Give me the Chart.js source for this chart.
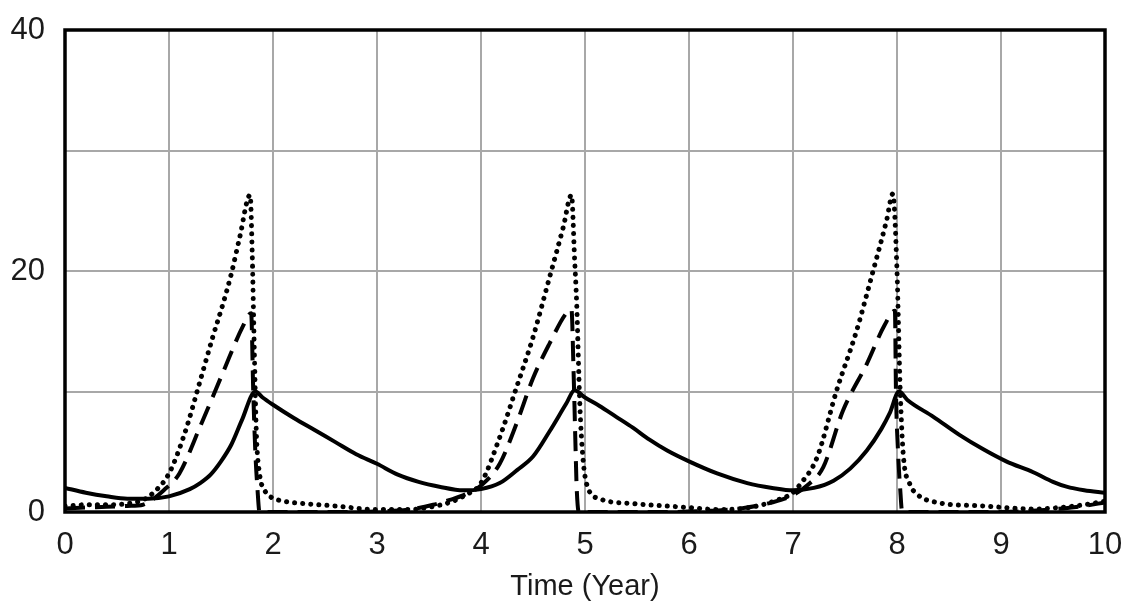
<!DOCTYPE html>
<html>
<head>
<meta charset="utf-8">
<script src="https://cdn.jsdelivr.net/npm/chart.js@4.4.1/dist/chart.umd.min.js"></script>
<style>
  html, body { margin: 0; padding: 0; background: #ffffff; }
  #c { display: block; }
</style>
</head>
<body>
<canvas id="c" width="1127" height="612"></canvas>
<script>
// ---- data ----
const xTickLabels = ['0','1','2','3','4','5','6','7','8','9','10'];
const yTickLabels = ['0','20','40'];
const xTitle = 'Time (Year)';

const solidTime  = [0.0,0.2,0.4,0.6,0.8,1.0,1.2,1.3,1.4,1.5,1.6,1.7,1.83,1.9,2.0,2.2,2.4,2.6,2.8,3.0,3.2,3.4,3.6,3.83,4.0,4.18,4.35,4.5,4.66,4.82,4.9,5.0,5.14,5.3,5.46,5.62,5.79,6.0,6.27,6.56,6.8,7.0,7.2,7.39,7.55,7.71,7.85,7.93,8.02,8.1,8.35,8.6,8.83,9.05,9.31,9.5,9.63,9.8,10.0];
const solidValue = [2.0,1.6,1.3,1.1,1.1,1.3,1.9,2.4,3.1,4.2,5.6,7.6,10.0,9.5,8.9,7.8,6.8,5.8,4.8,4.0,3.1,2.5,2.1,1.8,1.9,2.4,3.5,4.6,6.7,9.0,10.1,9.5,8.8,7.9,7.0,6.0,5.1,4.2,3.2,2.4,2.0,1.8,2.0,2.6,3.6,5.1,6.9,8.2,10.0,9.3,7.9,6.4,5.2,4.2,3.3,2.5,2.1,1.8,1.6];

const dashTime  = [0.0,0.3,0.6,0.75,0.82,0.95,1.1,1.3,1.52,1.71,1.79,1.81,1.83,1.85,1.87,2.5,3.0,3.3,3.54,3.7,3.86,4.0,4.18,4.34,4.5,4.66,4.82,4.87,4.89,4.91,4.92,4.94,5.8,6.2,6.5,6.8,7.0,7.15,7.29,7.48,7.71,7.88,7.98,7.99,8.01,8.03,8.05,9.0,9.3,9.6,9.8,10.0];
const dashValue = [0.3,0.4,0.5,0.6,0.9,1.8,3.2,7.1,11.6,15.4,16.5,10.0,5.0,2.0,0.0,0.0,0.05,0.2,0.6,1.0,1.5,2.2,4.0,7.3,11.1,14.0,16.5,16.8,11.7,5.0,2.0,0.0,0.0,0.1,0.3,0.8,1.4,2.3,3.7,8.4,12.3,15.5,16.7,10.0,5.0,2.0,0.0,0.0,0.1,0.3,0.5,0.8];

const dotTime  = [0.0,0.2,0.4,0.6,0.75,0.85,1.0,1.15,1.3,1.42,1.52,1.6,1.68,1.78,1.8,1.82,1.84,1.87,1.92,1.97,2.1,2.3,2.6,3.0,3.3,3.5,3.7,3.85,4.0,4.18,4.34,4.5,4.66,4.79,4.87,4.9,4.92,4.95,4.98,5.02,5.14,5.46,5.95,6.3,6.6,6.85,7.0,7.07,7.23,7.42,7.61,7.77,7.9,7.96,8.0,8.03,8.06,8.12,8.19,8.38,8.83,9.31,9.6,9.8,10.0];
const dotValue = [0.5,0.6,0.6,0.7,1.0,1.6,3.2,6.5,10.9,14.5,17.3,19.8,22.8,26.3,21.5,13.5,6.5,3.2,1.8,1.3,0.9,0.7,0.5,0.2,0.2,0.4,0.8,1.4,2.4,6.2,10.3,14.5,19.5,23.6,26.3,21.0,17.3,9.0,4.5,2.2,1.1,0.7,0.4,0.2,0.4,1.0,1.6,2.3,4.5,10.1,15.0,20.0,24.2,26.4,20.0,10.3,4.8,2.4,1.5,0.8,0.5,0.25,0.4,0.6,0.9];

function pts(t, v) { return t.map((x, i) => ({ x: x, y: v[i] })); }

const FONT = "'Liberation Sans', Arial, Helvetica, sans-serif";

function noPad(s) { s.paddingTop = 0; s.paddingBottom = 0; s.paddingLeft = 0; s.paddingRight = 0; }

const frame = {
  id: 'frame',
  afterDatasetsDraw(chart) {
    const a = chart.chartArea, ctx = chart.ctx;
    ctx.save();
    ctx.strokeStyle = '#000';
    ctx.lineWidth = 3.5;
    ctx.strokeRect(a.left, a.top, a.right - a.left, a.bottom - a.top);
    ctx.restore();
  }
};

new Chart(document.getElementById('c'), {
  type: 'line',
  data: {
    datasets: [
      { label: 'solid', data: pts(solidTime, solidValue), borderColor: '#000', borderWidth: 4,
        pointRadius: 0, cubicInterpolationMode: 'monotone', fill: false },
      { label: 'dashed', data: pts(dashTime, dashValue), borderColor: '#000', borderWidth: 4,
        borderDash: [20, 10], pointRadius: 0, cubicInterpolationMode: 'monotone', fill: false },
      { label: 'dotted', data: pts(dotTime, dotValue), borderColor: '#000', borderWidth: 5,
        borderDash: [0.1, 8], borderCapStyle: 'round', pointRadius: 0, cubicInterpolationMode: 'monotone', fill: false }
    ]
  },
  options: {
    responsive: false,
    animation: false,
    devicePixelRatio: 1,
    layout: { padding: { left: 0, right: 22, top: 30, bottom: 0 } },
    plugins: { legend: { display: false }, tooltip: { enabled: false }, title: { display: false } },
    scales: {
      x: {
        type: 'linear', min: 0, max: 10,
        afterFit(s) { s.height = 100; noPad(s); },
        afterBuildTicks(s) { s.ticks = xTickLabels.map(l => ({ value: Number(l) })); },
        ticks: { stepSize: 1, color: '#1a1a1a', font: { family: FONT, size: 31 }, padding: 15,
                 maxRotation: 0, autoSkip: false, callback: (v) => xTickLabels[v] },
        grid: { color: '#a8a8a8', lineWidth: 2, drawTicks: false },
        border: { display: false },
        title: { display: true, text: xTitle, color: '#1a1a1a', font: { family: FONT, size: 29 },
                 padding: { top: 0, bottom: 8 } }
      },
      y: {
        type: 'linear', min: 0, max: 40,
        afterFit(s) { s.width = 65; noPad(s); },
        ticks: { stepSize: 10, color: '#1a1a1a', font: { family: FONT, size: 31 }, padding: 20,
                 callback: (v) => yTickLabels.includes(String(v)) ? String(v) : '' },
        grid: { color: '#a8a8a8', lineWidth: 2, drawTicks: false },
        border: { display: false }
      }
    }
  },
  plugins: [frame]
});
</script>
</body>
</html>
